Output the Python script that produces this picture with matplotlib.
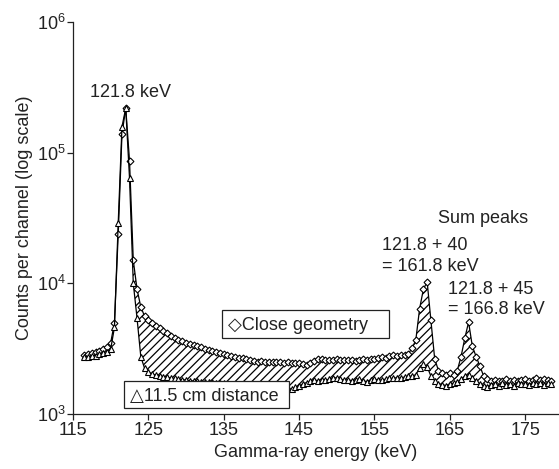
import matplotlib
matplotlib.use("Agg")
import matplotlib.pyplot as plt
from matplotlib.patches import Rectangle

plt.rcParams['font.family'] = ['Liberation Sans', 'DejaVu Sans']
plt.rcParams['mathtext.fontset'] = 'custom'
plt.rcParams['mathtext.rm'] = 'Liberation Sans'
plt.rcParams['hatch.linewidth'] = 0.9

# ---- data (keV, counts per channel)
energy = [116.5, 117.0, 117.5, 118.0, 118.5, 119.0, 119.5, 120.0, 120.5, 121.0,
          121.5, 122.0, 122.5, 123.0, 123.5, 124.0, 124.5, 125.0, 125.5, 126.0,
          126.5, 127.0, 127.5, 128.0, 128.5, 129.0, 129.5, 130.0, 130.5, 131.0,
          131.5, 132.0, 132.5, 133.0, 133.5, 134.0, 134.5, 135.0, 135.5, 136.0,
          136.5, 137.0, 137.5, 138.0, 138.5, 139.0, 139.5, 140.0, 140.5, 141.0,
          141.5, 142.0, 142.5, 143.0, 143.5, 144.0, 144.5, 145.0, 145.5, 146.0,
          146.5, 147.0, 147.5, 148.0, 148.5, 149.0, 149.5, 150.0, 150.5, 151.0,
          151.5, 152.0, 152.5, 153.0, 153.5, 154.0, 154.5, 155.0, 155.5, 156.0,
          156.5, 157.0, 157.5, 158.0, 158.5, 159.0, 159.5, 160.0, 160.5, 161.0,
          161.5, 162.0, 162.5, 163.0, 163.5, 164.0, 164.5, 165.0, 165.5, 166.0,
          166.5, 167.0, 167.5, 168.0, 168.5, 169.0, 169.5, 170.0, 170.5, 171.0,
          171.5, 172.0, 172.5, 173.0, 173.5, 174.0, 174.5, 175.0, 175.5, 176.0,
          176.5, 177.0, 177.5, 178.0, 178.5]

close_geometry = [2850, 2880, 2920, 2980, 3050, 3150, 3250, 3500, 5000, 23800,
                  139000, 219000, 86700, 15000, 9000, 6600, 5600, 5200, 4950, 4750,
                  4530, 4350, 4150, 3950, 3820, 3700, 3600, 3520, 3450, 3380,
                  3300, 3230, 3160, 3090, 3030, 2980, 2920, 2870, 2830, 2780,
                  2740, 2700, 2660, 2620, 2580, 2540, 2520, 2530, 2500, 2510,
                  2490, 2520, 2480, 2460, 2490, 2450, 2470, 2440, 2400, 2370,
                  2450, 2560, 2630, 2640, 2610, 2600, 2580, 2620, 2590, 2570,
                  2600, 2580, 2560, 2590, 2620, 2600, 2640, 2620, 2680, 2730,
                  2700, 2780, 2830, 2800, 2850, 2830, 2900, 3180, 3700, 6400,
                  9000, 10300, 5200, 2650, 2150, 2050, 2000, 2050, 2000, 2150,
                  2750, 3800, 5050, 3300, 2750, 2330, 1950, 1850, 1800, 1830,
                  1790, 1800, 1840, 1780, 1810, 1790, 1830, 1850, 1800, 1830,
                  1870, 1820, 1850, 1830, 1800]

far_11_5cm = [2720, 2740, 2780, 2800, 2870, 2950, 3000, 3130, 4600, 28900,
              158000, 219000, 64000, 10000, 5400, 2740, 2240, 2110, 2020, 1990,
              1960, 1930, 1910, 1890, 1870, 1850, 1830, 1820, 1800, 1790,
              1780, 1770, 1760, 1760, 1750, 1740, 1730, 1720, 1710, 1700,
              1700, 1690, 1680, 1670, 1660, 1650, 1640, 1640, 1630, 1620,
              1610, 1600, 1590, 1580, 1570, 1550, 1600, 1640, 1700, 1740,
              1780, 1820, 1800, 1830, 1810, 1850, 1870, 1900, 1850, 1820,
              1830, 1800, 1820, 1850, 1790, 1770, 1820, 1840, 1830, 1820,
              1850, 1880, 1870, 1900, 1880, 1920, 1940, 1950, 2000, 2250,
              2400, 2300, 1950, 1800, 1700, 1680, 1650, 1700, 1720, 1750,
              1850, 1950, 2000, 1900, 1800, 1700, 1650, 1620, 1680, 1700,
              1650, 1720, 1680, 1700, 1650, 1730, 1690, 1710, 1660, 1720,
              1700, 1740, 1680, 1720, 1700]

x_ticks = [115, 125, 135, 145, 155, 165, 175]
y_ticks = [1e3, 1e4, 1e5, 1e6]

W, H = 559, 469
TXT = '#222222'
FS = 13


def px(x, y):
    # pixel position -> figure fraction
    return x / W, 1 - y / H


fig = plt.figure(figsize=(W / 100, H / 100), dpi=100)
ax = fig.add_axes([73 / W, 1 - 414 / H, (W - 73) / W, (414 - 22) / H])

ax.fill_between(energy, far_11_5cm, close_geometry, facecolor='white',
                edgecolor='black', hatch='////', linewidth=0, zorder=1)
ax.plot(energy, close_geometry, color='black', lw=0.9, marker='D', ms=3.5,
        mfc='white', mec='black', mew=0.8, zorder=3)
ax.plot(energy, far_11_5cm, color='black', lw=0.9, marker='^', ms=5,
        mfc='white', mec='black', mew=0.8, zorder=4)

ax.set_yscale('log')
ax.set_xlim(115, 179.5)
ax.set_ylim(1e3, 1e6)
ax.set_xticks(x_ticks)
ax.set_yticks(y_ticks)
ax.minorticks_off()
ax.tick_params(direction='out', length=4, width=0.9, labelsize=FS,
               colors=TXT, labelcolor=TXT)
ax.tick_params(axis='y', pad=1)
ax.tick_params(axis='x', pad=2)
for s in ['top', 'right']:
    ax.spines[s].set_visible(False)
for s in ['left', 'bottom']:
    ax.spines[s].set_color(TXT)
    ax.spines[s].set_linewidth(0.9)

ax.set_xlabel('Gamma-ray energy (keV)', fontsize=FS, color=TXT, labelpad=3)
ax.set_ylabel('Counts per channel (log scale)', fontsize=FS, color=TXT, labelpad=3)

# peak labels
fig.text(*px(90, 96.7), '121.8 keV', fontsize=FS, color=TXT, va='baseline')
fig.text(*px(438, 223), 'Sum peaks', fontsize=FS, color=TXT, va='baseline')
fig.text(*px(381.5, 250), '121.8 + 40', fontsize=FS, color=TXT, va='baseline')
fig.text(*px(381.5, 271), '= 161.8 keV', fontsize=FS, color=TXT, va='baseline')
fig.text(*px(448, 294), '121.8 + 45', fontsize=FS, color=TXT, va='baseline')
fig.text(*px(448, 314), '= 166.8 keV', fontsize=FS, color=TXT, va='baseline')

# legend boxes
for (x0, y0, x1, y1) in [(222, 310, 389, 338), (124, 381, 289, 408)]:
    fx, fy = px(x0, y1)
    fig.patches.append(Rectangle((fx, fy), (x1 - x0) / W, (y1 - y0) / H,
                                 transform=fig.transFigure, facecolor='white',
                                 edgecolor=TXT, linewidth=0.9, zorder=5))
fig.text(*px(228, 330), '\u25c7Close geometry', fontsize=FS, color=TXT,
         va='baseline', zorder=6)
fig.text(*px(130, 401), '\u25b311.5 cm distance', fontsize=FS, color=TXT,
         va='baseline', zorder=6)

fig.savefig('out.png', dpi=100)
